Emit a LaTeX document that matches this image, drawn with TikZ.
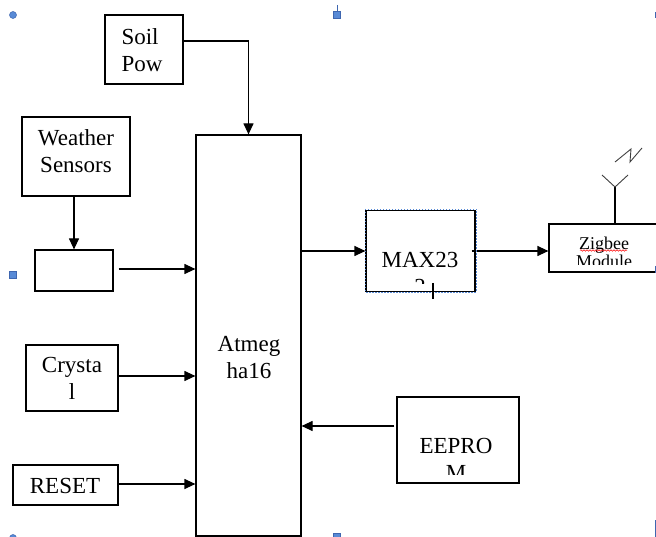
\documentclass[tikz,border=0pt]{standalone}
\usepackage{fontspec}
\setmainfont{Liberation Serif}
\usetikzlibrary{arrows.meta,decorations.pathmorphing}
\definecolor{handle}{RGB}{88,138,214}
\definecolor{handleline}{RGB}{62,102,176}
\begin{document}
\begin{tikzpicture}[x=1pt, y=-1pt, line join=miter, >={Triangle[length=11pt,width=10pt]},
	font=\fontsize{23}{27}\selectfont,
	blk/.style={draw, line width=1.2pt, inner sep=0pt, align=center},
	txt/.style={inner sep=0pt, align=center},
	arr/.style={->, line width=1.2pt},
	hdl/.style={fill=handle, draw=handleline, line width=0.5pt}]
	\useasboundingbox (0,0) rectangle (656,537);
	%%%%%%%%%%%%%%%%%%%%%%%%%%%%%%%%%
	\node[blk, minimum width=78pt, minimum height=69pt] (soil) at (144,49.5) {};
	\node[blk, minimum width=108pt, minimum height=79pt] (weather) at (76,156.5) {};
	\node[blk, minimum width=78pt, minimum height=41pt] (adc) at (74,270.5) {};
	\node[blk, minimum width=105pt, minimum height=401pt] (atmega) at (248.5,335.5) {};
	\node[blk, minimum width=92pt, minimum height=66pt] (crystal) at (72,378) {};
	\node[blk, minimum width=105pt, minimum height=40pt] (reset) at (65.5,485) {};
	\node[blk, minimum width=109pt, minimum height=81pt] (max) at (420.5,251) {};
	\node[blk, minimum width=116pt, minimum height=48pt] (zigbee) at (607,248) {};
	\node[blk, minimum width=122pt, minimum height=86pt] (eeprom) at (458,440) {};
	%%%%%%%%%%%%%%%%%%%%%%%%%%%%%%%%%
	\node[txt, anchor=north, align=left] (soiltext) at (142,28) {Soil\\Pow};
	\node[txt, anchor=north] (weathertext) at (76,129) {Weather\\Sensors};
	\node[txt, anchor=north] (atmegatext) at (249,336.5) {Atmeg\\ha16};
	\node[txt, anchor=north] (crystaltext) at (72,357) {Crysta\\l};
	\node[txt, anchor=north] (resettext) at (65,478) {RESET};
	\begin{scope}
		\clip (max.north west) rectangle (475,284);
		\node[txt, anchor=north] (maxtext) at (420,252) {MAX23\\2};
	\end{scope}
	\begin{scope}
		\clip (eeprom.north west) rectangle (519,474);
		\node[txt, anchor=north] (eepromtext) at (456,438) {EEPRO\\M};
	\end{scope}
	\begin{scope}
		\clip (zigbee.north west) rectangle (656,265);
		\node[txt, anchor=north, font=\fontsize{18}{18}\selectfont] (zigbeetext) at (604,237) {Zigbee\\Module};
	\end{scope}
	\draw[red, line width=0.5pt, decorate, decoration={snake, amplitude=0.8pt, segment length=3pt}] (580,250.5) -- (627,250.5);
	%%%%%%%%%%%%%%%%%%%%%%%%%%%%%%%%%
	\draw[arr] ([yshift=8.5pt]soil.east) -| (atmega.north);
	\draw[arr] (adc.north |- weather.south) -- (adc.north);
	\draw[arr, shorten <=5pt] ([yshift=1.5pt]adc.east) -- ([yshift=1.5pt]adc.east -| atmega.west);
	\draw[arr] ([yshift=2pt]crystal.east) -- ([yshift=2pt]crystal.east -| atmega.west);
	\draw[arr] ([yshift=1pt]reset.east) -- ([yshift=1pt]reset.east -| atmega.west);
	\draw[arr] (max.west -| atmega.east) -- (max.west);
	\draw[arr, shorten <=-4pt] (max.east) -- (max.east -| zigbee.west);
	\draw[arr, shorten <=2pt] ([yshift=14pt]eeprom.west) -- ([yshift=14pt]eeprom.west -| atmega.east);
	%%%%%%%%%%%%%%%%%%%%%%%%%%%%%%%%%
	\coordinate (tip) at (615,187);
	\draw[line width=1.2pt] (tip |- zigbee.north) -- (tip);
	\begin{scope}[black!75, line width=0.9pt]
		\draw (602,175) -- (tip) -- (628,175);
		\draw (615,162) -- (631,149) -- (630,162) -- (642,148);
	\end{scope}
	%%%%%%%%%%%%%%%%%%%%%%%%%%%%%%%%%
	\draw[handle, line width=0.8pt, dash pattern=on 1.5pt off 1.5pt] (365,209) rectangle (476,292);
	\draw[line width=2pt] (433,283) -- (433,299);
	%%%%%%%%%%%%%%%%%%%%%%%%%%%%%%%%%
	\filldraw[hdl] (13,15) circle (3.5pt);
	\filldraw[hdl] (333.5,11.5) rectangle (340.5,18.5);
	\draw[handleline, line width=1pt] (337,5) -- (337,11.5);
	\filldraw[hdl] (9.5,271.5) rectangle (16.5,278.5);
	\filldraw[hdl] (13,538) circle (3.5pt);
	\filldraw[hdl] (333.5,533) rectangle (340.5,540);
	\draw[handleline, line width=1pt] (655,12) -- (655,18);
	\draw[handleline, line width=1pt] (655,266) -- (655,273);
	\draw[handleline, line width=1pt] (655,520) -- (655,537);
\end{tikzpicture}
\end{document}
